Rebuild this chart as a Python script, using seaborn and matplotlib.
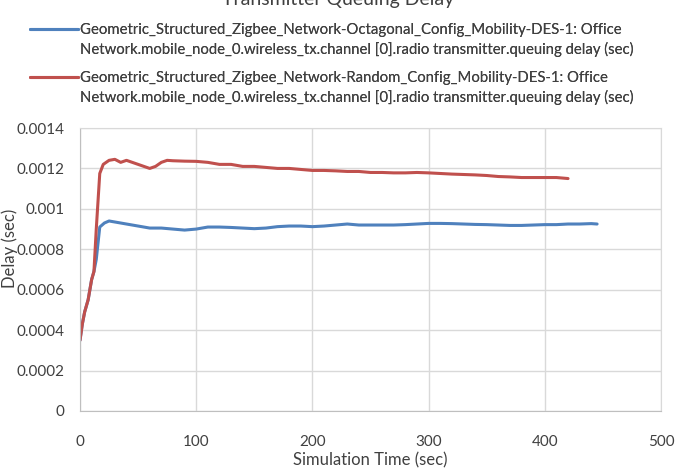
import pandas as pd
import matplotlib
matplotlib.use("Agg")
import matplotlib.pyplot as plt
import seaborn as sns

# dati
time_octagonal = [0, 2, 4, 7, 10, 12, 14, 17, 21, 25, 30, 35, 40, 45, 50, 55, 60, 70, 80, 90,
                  100, 110, 120, 130, 140, 150, 160, 170, 180, 190, 200, 210, 220, 230, 240,
                  250, 260, 270, 280, 290, 300, 310, 320, 330, 340, 350, 360, 370, 380, 390,
                  400, 410, 420, 430, 440, 445]
delay_octagonal = [0.00035, 0.00043, 0.00049, 0.00055, 0.00065, 0.00069, 0.00075, 0.00091,
                   0.00093, 0.00094, 0.000935, 0.00093, 0.000925, 0.00092, 0.000915, 0.00091,
                   0.000905, 0.000905, 0.0009, 0.000895, 0.0009, 0.00091, 0.00091, 0.000908,
                   0.000905, 0.000902, 0.000905, 0.000912, 0.000915, 0.000915, 0.000912,
                   0.000915, 0.00092, 0.000925, 0.00092, 0.00092, 0.00092, 0.00092, 0.000922,
                   0.000925, 0.000928, 0.000928, 0.000927, 0.000925, 0.000923, 0.000922,
                   0.00092, 0.000918, 0.000918, 0.00092, 0.000922, 0.000922, 0.000925,
                   0.000925, 0.000927, 0.000925]

time_random = [0, 2, 4, 7, 10, 12, 14, 17, 20, 25, 30, 35, 40, 45, 50, 55, 60, 65, 70, 75,
               80, 90, 100, 110, 120, 130, 140, 150, 160, 170, 180, 190, 200, 210, 220, 230,
               240, 250, 260, 270, 280, 290, 300, 310, 320, 330, 340, 350, 360, 370, 380,
               390, 400, 410, 420]
delay_random = [0.00035, 0.00043, 0.00049, 0.00055, 0.00065, 0.00069, 0.0009, 0.001175,
                0.00122, 0.00124, 0.001245, 0.00123, 0.00124, 0.00123, 0.00122, 0.00121,
                0.0012, 0.00121, 0.00123, 0.00124, 0.001238, 0.001236, 0.001235, 0.00123,
                0.00122, 0.00122, 0.00121, 0.00121, 0.001205, 0.0012, 0.0012, 0.001195,
                0.00119, 0.00119, 0.001188, 0.001185, 0.001185, 0.00118, 0.00118, 0.001178,
                0.001178, 0.00118, 0.001178, 0.001175, 0.001172, 0.00117, 0.001168,
                0.001165, 0.00116, 0.001158, 0.001155, 0.001155, 0.001155, 0.001155, 0.00115]

label_oct = ["Geometric_Structured_Zigbee_Network-Octagonal_Config_Mobility-DES-1: Office",
             "Network.mobile_node_0.wireless_tx.channel [0].radio transmitter.queuing delay (sec)"]
label_rnd = ["Geometric_Structured_Zigbee_Network-Random_Config_Mobility-DES-1: Office",
             "Network.mobile_node_0.wireless_tx.channel [0].radio transmitter.queuing delay (sec)"]

x_ticks = [0, 100, 200, 300, 400, 500]
y_ticks = [0, 0.0002, 0.0004, 0.0006, 0.0008, 0.001, 0.0012, 0.0014]
y_tick_labels = ["0", "0.0002", "0.0004", "0.0006", "0.0008", "0.001", "0.0012", "0.0014"]

blue = "#4f81bd"
red = "#c0504d"
grey_txt = "#404040"

df = pd.concat([
    pd.DataFrame({"Time": time_octagonal, "Delay": delay_octagonal, "Serie": "oct"}),
    pd.DataFrame({"Time": time_random, "Delay": delay_random, "Serie": "rnd"}),
])

sns.set_style("white")
plt.rcParams["font.family"] = ["Lato", "DejaVu Sans"]

fig = plt.figure(figsize=(6.77, 4.72), dpi=100)
ax = fig.add_axes([80 / 677, 61 / 472, 581 / 677, 283 / 472])

sns.lineplot(data=df, x="Time", y="Delay", hue="Serie",
             palette={"oct": blue, "rnd": red},
             linewidth=2.2, ax=ax, legend=False)

ax.set_xlim(0, 500)
ax.set_ylim(0, 0.0014)
ax.set_xticks(x_ticks)
ax.set_yticks(y_ticks)
ax.set_yticklabels(y_tick_labels)
ax.grid(True, color="#d9d9d9", linewidth=1)
ax.tick_params(axis="x", length=0, pad=17, labelsize=11, colors=grey_txt)
ax.tick_params(axis="y", length=0, pad=11, labelsize=11, colors=grey_txt)
for s in ax.spines.values():
    s.set_color("#d9d9d9")
ax.spines["bottom"].set_color("#bfbfbf")
ax.spines["left"].set_color("#bfbfbf")

ax.set_xlabel("Simulation Time (sec)", fontsize=12, color=grey_txt, labelpad=3)
ax.set_ylabel("Delay (sec)", fontsize=12, color=grey_txt)
ax.yaxis.set_label_coords(-62 / 581, (411 - 248) / 283)

# titolo tagliato in alto come nell'originale
fig.text(0.5, 1.0, "Transmitter Queuing Delay", ha="center", va="center",
         fontsize=14, color=grey_txt)

# legenda: linea allineata alla prima riga dell'etichetta
blank = plt.Line2D([], [], color="none")
for color, lab, ytop in [(blue, label_oct, 23), (red, label_rnd, 71)]:
    leg = fig.legend([plt.Line2D([], [], color=color, linewidth=2.2), blank], lab,
                     loc="upper left", bbox_to_anchor=(30 / 677, 1 - ytop / 472),
                     frameon=False, fontsize=10.7, handlelength=3.2, handletextpad=0.15,
                     labelspacing=0.35, borderpad=0, borderaxespad=0,
                     labelcolor=grey_txt)
    fig.add_artist(leg)

fig.savefig("out.png", dpi=100)
